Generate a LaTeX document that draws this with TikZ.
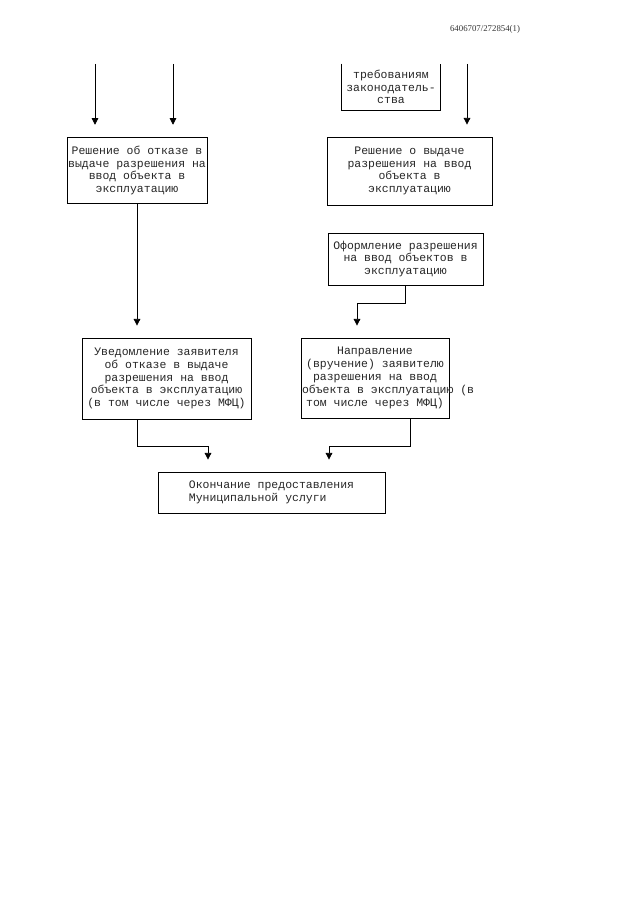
\documentclass[tikz,border=0pt]{standalone}
\usepackage{fontspec}
\setmonofont{Liberation Mono}
\newfontfamily\headfont{Liberation Serif}
\usetikzlibrary{arrows.meta,positioning,calc}

\begin{document}
\begin{tikzpicture}[x=0.75pt, y=-0.75pt, line width=0.6pt, >={Triangle[length=5pt,width=5pt]}]
    \tikzset{
        block/.style={draw, rectangle, align=center, inner xsep=0.8pt, inner ysep=0pt, text=black!85, font=\fontsize{8.6}{9.6}\selectfont\ttfamily, execute at begin node={\spaceskip=0pt\xspaceskip=0pt\relax}},
        line/.style={draw, ->, shorten >=9pt}
    }
    \useasboundingbox (0,0) rectangle (640,905);

    \node[text=black!80, font=\headfont\fontsize{6.6}{7}\selectfont] (num) at (485,29) {6406707/272854(1)};

    % upper part (continued from previous page)
    \node[block, draw=none, text width=71.9pt, minimum height=34.5pt] (law) at (391,87) {требованиям\\законодатель-\\ства};
    \draw (law.north west) |- (law.south east) -- (law.north east);
    \coordinate (in1) at (95,64);
    \coordinate (in2) at (173,64);
    \coordinate (in3) at (467,64);

    \node[block, text width=103.4pt, minimum height=50pt] (refuse) at (137,170.5) {Решение об отказе в\\выдаче разрешения на\\ввод объекта в\\эксплуатацию};
    \node[block, text width=122.1pt, minimum height=51pt] (issue) at (409.5,171) {Решение о выдаче\\разрешения на ввод\\объекта в\\эксплуатацию};
    \node[block, text width=114.6pt, minimum height=39pt] (make) at (405.5,259) {Оформление разрешения\\на ввод объектов в\\эксплуатацию};
    \node[block, text width=125.1pt, minimum height=60.75pt] (notify) at (166.5,378.5) {Уведомление заявителя\\об отказе в выдаче\\разрешения на ввод\\объекта в эксплуатацию\\(в том числе через МФЦ)};
    \node[block, text width=109.4pt, minimum height=60pt] (deliver) at (375,378) {Направление\\(вручение) заявителю\\разрешения на ввод\\\mbox{объекта в эксплуатацию (в}\\том числе через МФЦ)};
    \node[block, align=left, minimum width=170.25pt, minimum height=30.75pt] (final) at (271.5,492.5) {Окончание предоставления\\Муниципальной услуги};

    \path[line] (in1) -- (in1 |- refuse.north);
    \path[line] (in2) -- (in2 |- refuse.north);
    \path[line] (in3) -- (in3 |- issue.north);

    \path[line] (refuse.south) -- (refuse.south |- notify.north);

    \coordinate (m1) at (357,303);
    \path[line] (make.south) |- (m1) -- (m1 |- deliver.north);

    % joining into the last box
    \coordinate (n1) at (137,446);
    \coordinate (j1) at (208,446);
    \coordinate (d1) at (410,446);
    \coordinate (j2) at (329,446);
    \path[line] (notify.south -| n1) -- (n1) -- (j1) -- (j1 |- final.north);
    \path[line] (deliver.south -| d1) -- (d1) -- (j2) -- (j2 |- final.north);
\end{tikzpicture}
\end{document}
